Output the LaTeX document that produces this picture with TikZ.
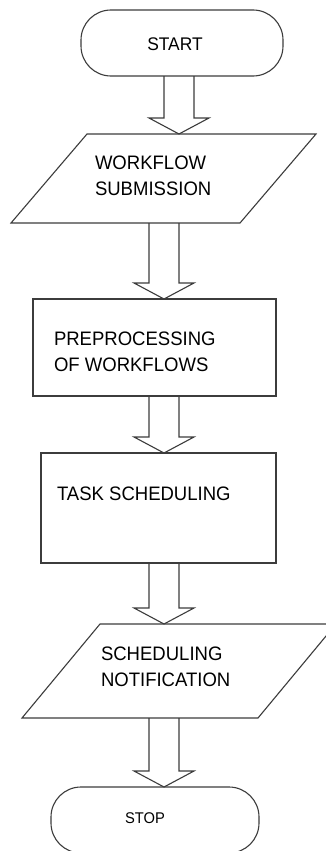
\documentclass[tikz,border=0pt]{standalone}
\usepackage{fontspec}
\setmainfont{Liberation Sans}[FakeStretch=0.95]
\usetikzlibrary{calc}
\definecolor{linegray}{HTML}{3C3C3C}
\tikzset{
  shapeline/.style={draw=linegray, line width=1.1pt, inner sep=0pt, outer sep=0pt},
  termbox/.style={shapeline, rectangle, rounded corners=30pt},
  procbox/.style={shapeline, rectangle},
  iobound/.style={rectangle, inner sep=0pt, outer sep=0pt},
  ioline/.style={draw=linegray, line width=1.1pt, line join=miter},
  arrowline/.style={draw=linegray, line width=1.1pt, line join=miter},
  txt/.style={inner sep=0pt, outer sep=0pt, align=left, text=black,
              font=\fontsize{19.5}{26}\selectfont},
}
\newcommand\blockarrow[3]{%
  \draw[arrowline]
    ($(#3,0 |- #1.south)+(-15,0)$) --
    ($(#3,0 |- #2.north)+(-15,-16)$) --
    ($(#3,0 |- #2.north)+(-30,-16)$) --
    (#3,0 |- #2.north) --
    ($(#3,0 |- #2.north)+(30,-16)$) --
    ($(#3,0 |- #2.north)+(15,-16)$) --
    ($(#3,0 |- #1.south)+(15,0)$);
}
\newcommand\parallelo[2]{% node, horizontal offset
  \draw[ioline] ($(#1.north west)+(#2,0)$) -- (#1.north east) --
    ($(#1.south east)+(-#2,0)$) -- (#1.south west) -- cycle;
}
\begin{document}
\begin{tikzpicture}[x=1pt,y=-1pt]
\useasboundingbox (0,0) rectangle (326,851);
\clip (0,0) rectangle (326,851);
\fill[white] (0,0) rectangle (326,851);

% shapes
\node[termbox, minimum width=202pt, minimum height=66pt] (start) at (182,43) {};
\node[iobound, minimum width=305pt, minimum height=89pt] (wf) at (163.5,178.5) {};
\parallelo{wf}{76}
\node[procbox, minimum width=243pt, minimum height=97pt] (pre) at (154.5,347.5) {};
\node[procbox, minimum width=235pt, minimum height=110pt] (task) at (158.5,508) {};
\node[iobound, minimum width=314pt, minimum height=94pt] (notif) at (179,671) {};
\parallelo{notif}{78}
\node[termbox, minimum width=208pt, minimum height=66pt] (stop) at (155,820) {};

% texts
\node[txt, font=\fontsize{18.3}{20}\selectfont] (starttxt) at (175,44) {START};
\node[txt, anchor=west] (wftxt) at (95,175.5) {WORKFLOW\\SUBMISSION};
\node[txt, anchor=west] (pretxt) at (54,352) {PREPROCESSING\\OF WORKFLOWS};
\node[txt, anchor=west] (tasktxt) at (57,494) {TASK SCHEDULING};
\node[txt, anchor=west] (notiftxt) at (101,666.5) {SCHEDULING\\NOTIFICATION};
\node[txt, font=\fontsize{15.5}{17}\selectfont] (stoptxt) at (145,818) {STOP};

% block arrows
\blockarrow{start}{wf}{179}
\blockarrow{wf}{pre}{164}
\blockarrow{pre}{task}{164}
\blockarrow{task}{notif}{164}
\blockarrow{notif}{stop}{164}
\end{tikzpicture}
\end{document}
